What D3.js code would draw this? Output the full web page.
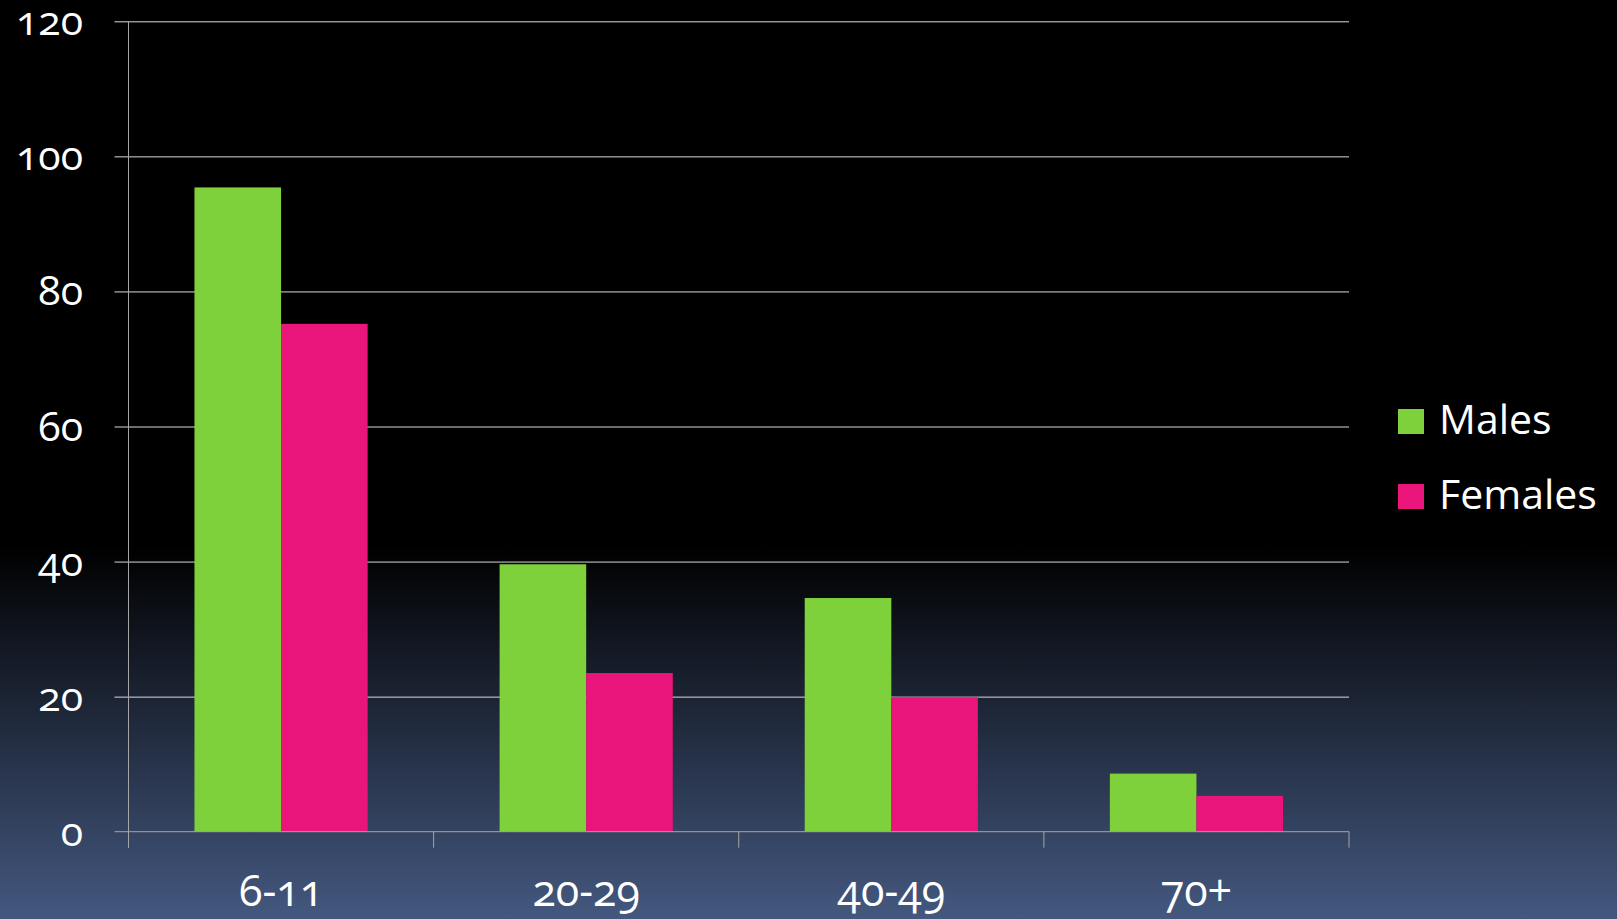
<!DOCTYPE html>
<html>
<head>
<meta charset="utf-8">
<script src="https://cdn.jsdelivr.net/npm/d3@7"></script>
<style>
  html, body { margin: 0; padding: 0; background: #000; }
  svg { display: block; }
  text { font-family: "Open Sans", "Lato", sans-serif; fill: #ffffff; font-variant-numeric: oldstyle-nums; }
</style>
</head>
<body>
<svg id="chart" width="1617" height="919"></svg>
<script>
// Age groups and counts per sex
const categories = ["6-11", "20-29", "40-49", "70+"];
const seriesNames = ["Males", "Females"];
const males = [95.4, 39.6, 34.6, 8.6];
const females = [75.2, 23.5, 19.9, 5.3];
const yTicks = [0, 20, 40, 60, 80, 100, 120];
const seriesColors = ["#7fd13b", "#ea157a"];

const W = 1617, H = 919;
const plot = { left: 128.5, right: 1349, top: 21.3, bottom: 831.7 };

const svg = d3.select("#chart");

// Background: black upper area fading into slate blue at the bottom
const defs = svg.append("defs");
const grad = defs.append("linearGradient")
  .attr("id", "bg").attr("x1", 0).attr("y1", 0).attr("x2", 0).attr("y2", 1);
grad.append("stop").attr("offset", "0").attr("stop-color", "#000000");
grad.append("stop").attr("offset", "0.595").attr("stop-color", "#000000");
grad.append("stop").attr("offset", "1").attr("stop-color", "#44587f");
svg.append("rect").attr("width", W).attr("height", H).attr("fill", "url(#bg)");

const x = d3.scaleBand().domain(categories).range([plot.left, plot.right]).padding(0);
const xSub = d3.scaleBand().domain(seriesNames).range([0, x.bandwidth()])
  .paddingInner(0).paddingOuter(0.762);
const y = d3.scaleLinear().domain([0, 120]).range([plot.bottom, plot.top]);

// Horizontal gridlines with the left tick stubs
const yAxis = d3.axisLeft(y).tickValues(yTicks.filter(t => t > 0))
  .tickSize(-(plot.right - plot.left)).tickFormat("");
svg.append("g").attr("transform", `translate(${plot.left},0)`).call(yAxis)
  .call(g => g.select(".domain").remove())
  .call(g => g.selectAll(".tick line").attr("stroke", "#d9d9d9").attr("stroke-width", 1)
    .attr("x1", -14));

// Y tick labels
svg.append("g").selectAll("text").data(yTicks).join("text")
  .attr("x", 83).attr("y", d => y(d) + 14)
  .attr("text-anchor", "end")
  .attr("font-size", 41)
  .text(d => d);

// Bars
const data = categories.map((c, i) => ({ cat: c, values: [males[i], females[i]] }));
const groups = svg.append("g").selectAll("g").data(data).join("g")
  .attr("transform", d => `translate(${x(d.cat)},0)`);
groups.selectAll("rect").data(d => d.values.map((v, j) => ({ name: seriesNames[j], v, j })))
  .join("rect")
  .attr("x", d => xSub(d.name))
  .attr("width", xSub.bandwidth())
  .attr("y", d => y(d.v))
  .attr("height", d => y(0) - y(d.v))
  .attr("fill", d => seriesColors[d.j]);

// Category axis along zero, with ticks at band edges
const edges = categories.map(c => x(c)).concat([plot.right]);
svg.append("line")
  .attr("x1", plot.left - 14).attr("x2", plot.right)
  .attr("y1", y(0)).attr("y2", y(0))
  .attr("stroke", "#a6a6a6").attr("stroke-width", 1);
svg.append("g").selectAll("line").data(edges).join("line")
  .attr("x1", d => d).attr("x2", d => d)
  .attr("y1", y(0)).attr("y2", y(0) + 16)
  .attr("stroke", "#a6a6a6").attr("stroke-width", 1);
// Vertical value axis
svg.append("line")
  .attr("x1", plot.left).attr("x2", plot.left)
  .attr("y1", plot.top).attr("y2", y(0) + 16)
  .attr("stroke", "#a6a6a6").attr("stroke-width", 1);

// Category labels
svg.append("g").selectAll("text").data(categories).join("text")
  .attr("x", d => x(d) + x.bandwidth() / 2)
  .attr("y", 906)
  .attr("text-anchor", "middle")
  .attr("font-size", 43)
  .text(d => d);

// Legend
const legend = svg.append("g").selectAll("g").data(seriesNames).join("g")
  .attr("transform", (d, i) => `translate(1398,${409 + i * 75})`);
legend.append("rect").attr("width", 26).attr("height", 25)
  .attr("fill", (d, i) => seriesColors[i]);
legend.append("text").attr("x", 41).attr("y", 25)
  .attr("font-size", 41)
  .text(d => d);
</script>
</body>
</html>
